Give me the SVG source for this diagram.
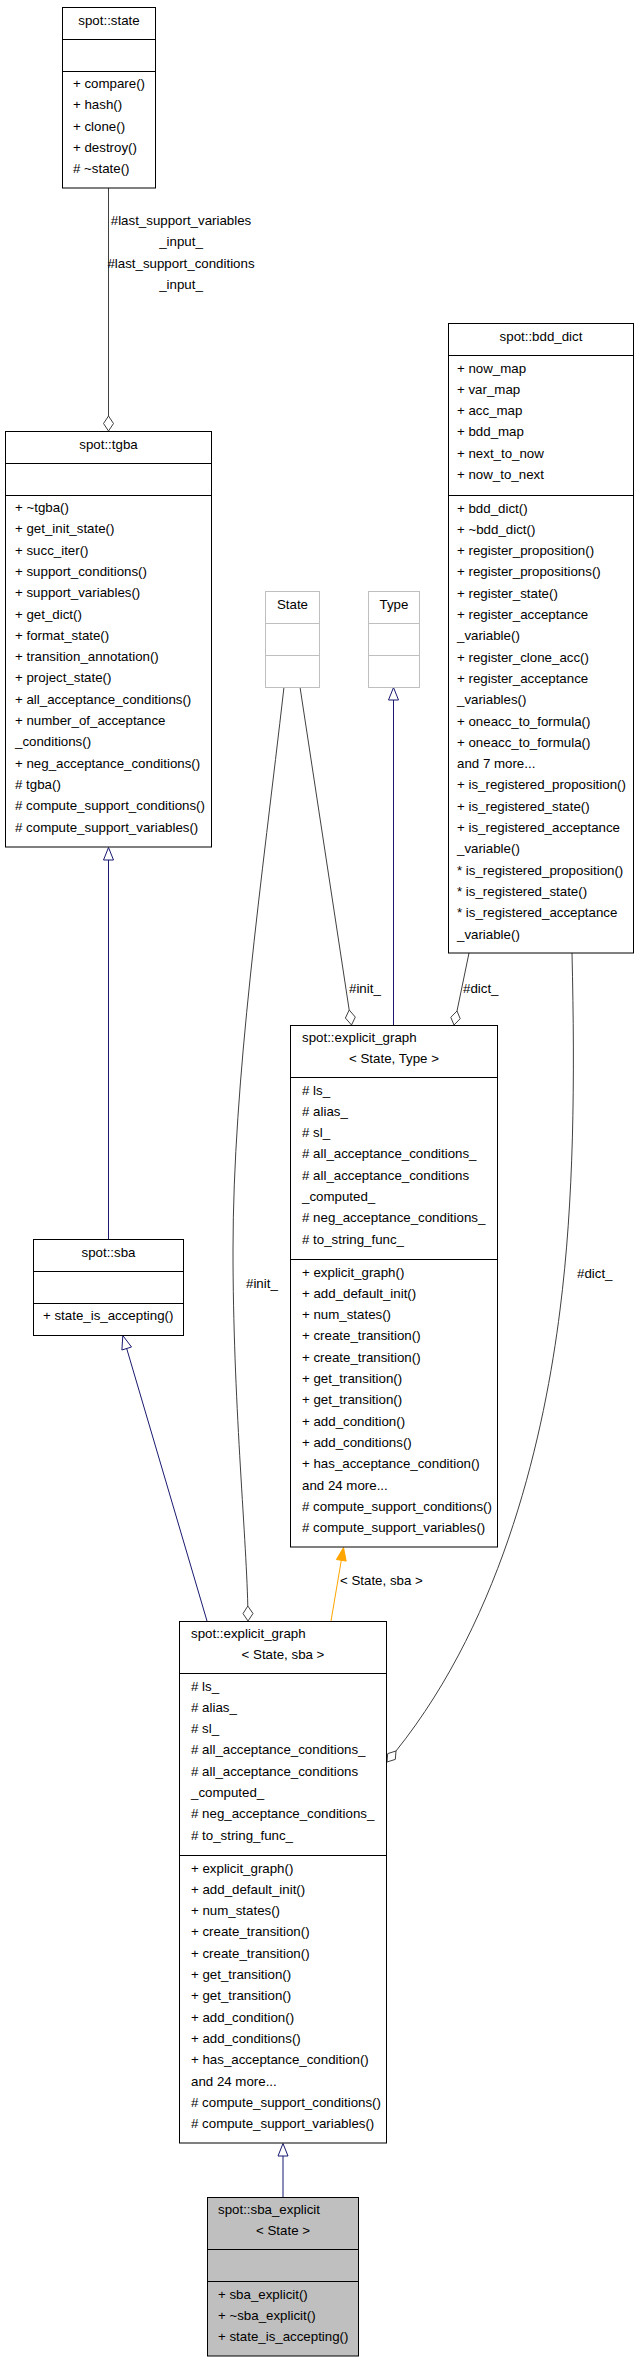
<svg xmlns="http://www.w3.org/2000/svg" width="639" height="2363" viewBox="0 0 639 2363">
<style>
.bg{fill:#ffffff}
.box{fill:#ffffff;stroke:#000000;stroke-width:1}
.gbox{fill:#ffffff;stroke:#bfbfbf;stroke-width:1}
.sel{fill:#bfbfbf;stroke:#000000;stroke-width:1}
.sep{stroke:#000000;stroke-width:1}
.gsep{stroke:#bfbfbf;stroke-width:1}
text{font-family:"Liberation Sans",Arial,Helvetica,sans-serif;font-size:13.3px;fill:#000000}
.c{text-anchor:middle}
.agg{fill:none;stroke:#404040;stroke-width:1}
.dia{fill:#ffffff;stroke:#404040;stroke-width:1}
.inh{fill:none;stroke:#191970;stroke-width:1}
.tri{fill:#ffffff;stroke:#191970;stroke-width:1}
.tpl{fill:none;stroke:#ffa500;stroke-width:1}
.otri{fill:#ffa500;stroke:#ffa500;stroke-width:1}
</style>
<rect class="bg" x="0" y="0" width="639" height="2363"/>

<g id="connectors">
  <!-- state -> tgba aggregation -->
  <path class="agg" d="M108.5,188 L108.5,416"/>
  <polygon class="dia" points="108.5,416 113.5,423.5 108.5,431 103.5,423.5"/>
  <text class="c" x="181" y="225">#last_support_variables</text>
  <text class="c" x="181" y="246.3">_input_</text>
  <text class="c" x="181" y="267.6">#last_support_conditions</text>
  <text class="c" x="181" y="288.9">_input_</text>

  <!-- tgba -> sba inheritance -->
  <path class="inh" d="M108.5,1239 L108.5,860"/>
  <polygon class="tri" points="108.5,847.5 113.5,860 103.5,860"/>

  <!-- explicit_graph<State,sba> -> sba inheritance -->
  <path class="inh" d="M207,1621 L126.7,1348.5"/>
  <polygon class="tri" points="122.8,1335.5 131.5,1347 121.9,1350"/>

  <!-- State -> explicit_graph<State,Type> #init_ -->
  <path class="agg" d="M300,687 L349.2,1010"/>
  <polygon class="dia" points="349.2,1010 355.3,1017.1 351.5,1025 345.4,1018"/>
  <text x="349" y="993">#init_</text>

  <!-- Type -> explicit_graph<State,Type> inheritance -->
  <path class="inh" d="M393.5,1025 L393.5,700"/>
  <polygon class="tri" points="393.5,687.5 398.5,700 388.5,700"/>

  <!-- bdd_dict -> explicit_graph<State,Type> #dict_ -->
  <path class="agg" d="M469,953 L457,1011"/>
  <polygon class="dia" points="457,1011 460.2,1018.7 454,1025 450.8,1017.3"/>
  <text x="463" y="993">#dict_</text>

  <!-- State -> explicit_graph<State,sba> #init_ -->
  <path class="agg" d="M284,687 C262,880 233,1080 233,1250 C233,1400 246,1530 247.8,1606"/>
  <polygon class="dia" points="247.8,1606 253,1613.5 248,1621 243,1613.6"/>
  <text x="246" y="1288">#init_</text>

  <!-- bdd_dict -> explicit_graph<State,sba> #dict_ -->
  <path class="agg" d="M572,953 C575,1080 574,1200 560,1310 C545,1430 505,1615 396,1751"/>
  <polygon class="dia" points="396,1751 395.3,1759.4 387,1762 387.7,1753.6"/>
  <text x="577" y="1278">#dict_</text>

  <!-- explicit_graph<State,sba> -> explicit_graph<State,Type> template -->
  <path class="tpl" d="M331,1621 L341.3,1560.3"/>
  <polygon class="otri" points="343.5,1547.5 346.2,1561.1 336.4,1559.5"/>
  <text x="340" y="1585">&lt; State, sba &gt;</text>

  <!-- sba_explicit -> explicit_graph<State,sba> inheritance -->
  <path class="inh" d="M283,2197 L283,2156"/>
  <polygon class="tri" points="283,2143.5 288,2156 278,2156"/>
</g>

<g id="node-state">
  <rect class="box" x="62.5" y="7.5" width="93" height="180.5"/>
  <line class="sep" x1="62.5" y1="39.5" x2="155.5" y2="39.5"/>
  <line class="sep" x1="62.5" y1="71.5" x2="155.5" y2="71.5"/>
  <text class="c" x="109" y="25">spot::state</text>
  <text x="73" y="88">+ compare()</text>
  <text x="73" y="109.3">+ hash()</text>
  <text x="73" y="130.6">+ clone()</text>
  <text x="73" y="151.9">+ destroy()</text>
  <text x="73" y="173.2"># ~state()</text>
</g>

<g id="node-tgba">
  <rect class="box" x="5.5" y="431.5" width="206" height="415.5"/>
  <line class="sep" x1="5.5" y1="463.5" x2="211.5" y2="463.5"/>
  <line class="sep" x1="5.5" y1="495.5" x2="211.5" y2="495.5"/>
  <text class="c" x="108.5" y="449">spot::tgba</text>
  <text x="15" y="512">+ ~tgba()</text>
  <text x="15" y="533.3">+ get_init_state()</text>
  <text x="15" y="554.6">+ succ_iter()</text>
  <text x="15" y="575.9">+ support_conditions()</text>
  <text x="15" y="597.2">+ support_variables()</text>
  <text x="15" y="618.5">+ get_dict()</text>
  <text x="15" y="639.8">+ format_state()</text>
  <text x="15" y="661.1">+ transition_annotation()</text>
  <text x="15" y="682.4">+ project_state()</text>
  <text x="15" y="703.7">+ all_acceptance_conditions()</text>
  <text x="15" y="725">+ number_of_acceptance</text>
  <text x="15" y="746.3">_conditions()</text>
  <text x="15" y="767.6">+ neg_acceptance_conditions()</text>
  <text x="15" y="788.9"># tgba()</text>
  <text x="15" y="810.2"># compute_support_conditions()</text>
  <text x="15" y="831.5"># compute_support_variables()</text>
</g>

<g id="node-sba">
  <rect class="box" x="33.5" y="1239.5" width="150" height="96"/>
  <line class="sep" x1="33.5" y1="1271.5" x2="183.5" y2="1271.5"/>
  <line class="sep" x1="33.5" y1="1303.5" x2="183.5" y2="1303.5"/>
  <text class="c" x="108.5" y="1257">spot::sba</text>
  <text x="43" y="1320">+ state_is_accepting()</text>
</g>

<g id="node-State">
  <rect class="gbox" x="265.5" y="591.5" width="54" height="96"/>
  <line class="gsep" x1="265.5" y1="623.5" x2="319.5" y2="623.5"/>
  <line class="gsep" x1="265.5" y1="655.5" x2="319.5" y2="655.5"/>
  <text class="c" x="292.5" y="609">State</text>
</g>

<g id="node-Type">
  <rect class="gbox" x="368.5" y="591.5" width="51" height="96"/>
  <line class="gsep" x1="368.5" y1="623.5" x2="419.5" y2="623.5"/>
  <line class="gsep" x1="368.5" y1="655.5" x2="419.5" y2="655.5"/>
  <text class="c" x="394" y="609">Type</text>
</g>

<g id="node-bdd_dict">
  <rect class="box" x="448.5" y="323.5" width="185" height="629.5"/>
  <line class="sep" x1="448.5" y1="355.5" x2="633.5" y2="355.5"/>
  <line class="sep" x1="448.5" y1="495.5" x2="633.5" y2="495.5"/>
  <text class="c" x="541" y="341">spot::bdd_dict</text>
  <text x="457" y="372.5">+ now_map</text>
  <text x="457" y="393.8">+ var_map</text>
  <text x="457" y="415.1">+ acc_map</text>
  <text x="457" y="436.4">+ bdd_map</text>
  <text x="457" y="457.7">+ next_to_now</text>
  <text x="457" y="479">+ now_to_next</text>
  <text x="457" y="512.5">+ bdd_dict()</text>
  <text x="457" y="533.8">+ ~bdd_dict()</text>
  <text x="457" y="555.1">+ register_proposition()</text>
  <text x="457" y="576.4">+ register_propositions()</text>
  <text x="457" y="597.7">+ register_state()</text>
  <text x="457" y="619">+ register_acceptance</text>
  <text x="457" y="640.3">_variable()</text>
  <text x="457" y="661.6">+ register_clone_acc()</text>
  <text x="457" y="682.9">+ register_acceptance</text>
  <text x="457" y="704.2">_variables()</text>
  <text x="457" y="725.5">+ oneacc_to_formula()</text>
  <text x="457" y="746.8">+ oneacc_to_formula()</text>
  <text x="457" y="768.1">and 7 more...</text>
  <text x="457" y="789.4">+ is_registered_proposition()</text>
  <text x="457" y="810.7">+ is_registered_state()</text>
  <text x="457" y="832">+ is_registered_acceptance</text>
  <text x="457" y="853.3">_variable()</text>
  <text x="457" y="874.6">* is_registered_proposition()</text>
  <text x="457" y="895.9">* is_registered_state()</text>
  <text x="457" y="917.2">* is_registered_acceptance</text>
  <text x="457" y="938.5">_variable()</text>
</g>

<g id="node-explicit_graph_State_Type">
  <rect class="box" x="290.5" y="1025.5" width="207" height="521.5"/>
  <line class="sep" x1="290.5" y1="1077.5" x2="497.5" y2="1077.5"/>
  <line class="sep" x1="290.5" y1="1259.5" x2="497.5" y2="1259.5"/>
  <text x="302" y="1042">spot::explicit_graph</text>
  <text class="c" x="394" y="1063">&lt; State, Type &gt;</text>
  <text x="302" y="1094.5"># ls_</text>
  <text x="302" y="1115.8"># alias_</text>
  <text x="302" y="1137.1"># sl_</text>
  <text x="302" y="1158.4"># all_acceptance_conditions_</text>
  <text x="302" y="1179.7"># all_acceptance_conditions</text>
  <text x="302" y="1201">_computed_</text>
  <text x="302" y="1222.3"># neg_acceptance_conditions_</text>
  <text x="302" y="1243.6"># to_string_func_</text>
  <text x="302" y="1276.5">+ explicit_graph()</text>
  <text x="302" y="1297.8">+ add_default_init()</text>
  <text x="302" y="1319.1">+ num_states()</text>
  <text x="302" y="1340.4">+ create_transition()</text>
  <text x="302" y="1361.7">+ create_transition()</text>
  <text x="302" y="1383">+ get_transition()</text>
  <text x="302" y="1404.3">+ get_transition()</text>
  <text x="302" y="1425.6">+ add_condition()</text>
  <text x="302" y="1446.9">+ add_conditions()</text>
  <text x="302" y="1468.2">+ has_acceptance_condition()</text>
  <text x="302" y="1489.5">and 24 more...</text>
  <text x="302" y="1510.8"># compute_support_conditions()</text>
  <text x="302" y="1532.1"># compute_support_variables()</text>
</g>

<g id="node-explicit_graph_State_sba">
  <rect class="box" x="179.5" y="1621.5" width="207" height="521.5"/>
  <line class="sep" x1="179.5" y1="1673.5" x2="386.5" y2="1673.5"/>
  <line class="sep" x1="179.5" y1="1855.5" x2="386.5" y2="1855.5"/>
  <text x="191" y="1638">spot::explicit_graph</text>
  <text class="c" x="283" y="1659">&lt; State, sba &gt;</text>
  <text x="191" y="1690.5"># ls_</text>
  <text x="191" y="1711.8"># alias_</text>
  <text x="191" y="1733.1"># sl_</text>
  <text x="191" y="1754.4"># all_acceptance_conditions_</text>
  <text x="191" y="1775.7"># all_acceptance_conditions</text>
  <text x="191" y="1797">_computed_</text>
  <text x="191" y="1818.3"># neg_acceptance_conditions_</text>
  <text x="191" y="1839.6"># to_string_func_</text>
  <text x="191" y="1872.5">+ explicit_graph()</text>
  <text x="191" y="1893.8">+ add_default_init()</text>
  <text x="191" y="1915.1">+ num_states()</text>
  <text x="191" y="1936.4">+ create_transition()</text>
  <text x="191" y="1957.7">+ create_transition()</text>
  <text x="191" y="1979">+ get_transition()</text>
  <text x="191" y="2000.3">+ get_transition()</text>
  <text x="191" y="2021.6">+ add_condition()</text>
  <text x="191" y="2042.9">+ add_conditions()</text>
  <text x="191" y="2064.2">+ has_acceptance_condition()</text>
  <text x="191" y="2085.5">and 24 more...</text>
  <text x="191" y="2106.8"># compute_support_conditions()</text>
  <text x="191" y="2128.1"># compute_support_variables()</text>
</g>

<g id="node-sba_explicit">
  <rect class="sel" x="207.5" y="2197.5" width="151" height="158.5"/>
  <line class="sep" x1="207.5" y1="2249.5" x2="358.5" y2="2249.5"/>
  <line class="sep" x1="207.5" y1="2281.5" x2="358.5" y2="2281.5"/>
  <text x="218" y="2214">spot::sba_explicit</text>
  <text class="c" x="283" y="2235">&lt; State &gt;</text>
  <text x="218" y="2298.5">+ sba_explicit()</text>
  <text x="218" y="2319.8">+ ~sba_explicit()</text>
  <text x="218" y="2341.1">+ state_is_accepting()</text>
</g>
</svg>
